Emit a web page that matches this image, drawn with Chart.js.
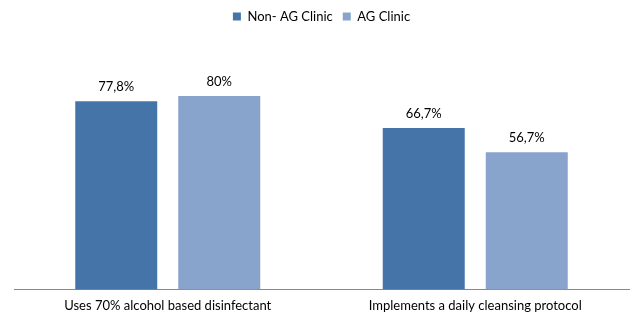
<!DOCTYPE html>
<html><head><meta charset="utf-8">
<script src="https://cdn.jsdelivr.net/npm/chart.js@4/dist/chart.umd.min.js"></script>
<style>html,body{margin:0;padding:0;background:#fff}#wrap{width:633px;height:318px}</style>
</head><body><div id="wrap"><canvas id="c" width="633" height="318"></canvas></div>
<script>
const categories = ["Uses 70% alcohol based disinfectant", "Implements a daily cleansing protocol"];
const nonAG = [77.8, 66.7];
const AG = [80, 56.7];
const seriesNames = ["Non- AG Clinic", "AG Clinic"];
const fmt = v => String(v).replace('.', ',') + '%';
const FONT = "Lato";

const labelPlugin = {
  id: 'valLabels',
  afterDatasetsDraw(chart) {
    const ctx = chart.ctx;
    ctx.save();
    ctx.font = "13px " + FONT;
    ctx.fillStyle = '#000';
    ctx.textAlign = 'center';
    ctx.textBaseline = 'bottom';
    chart.data.datasets.forEach((ds, i) => {
      chart.getDatasetMeta(i).data.forEach((el, j) => {
        ctx.fillText(fmt(ds.data[j]), el.x, el.y - 8);
      });
    });
    ctx.restore();
  }
};

new Chart(document.getElementById('c'), {
  type: 'bar',
  data: {
    labels: categories,
    datasets: [
      { label: seriesNames[0], data: nonAG, backgroundColor: '#4574A8' },
      { label: seriesNames[1], data: AG, backgroundColor: '#88A4CC' }
    ]
  },
  options: {
    responsive: false,
    animation: false,
    devicePixelRatio: 1,
    categoryPercentage: 0.67,
    barPercentage: 0.796,
    layout: { padding: { left: 14, right: 4, top: 0, bottom: -5 } },
    plugins: {
      legend: {
        position: 'top',
        labels: { boxWidth: 8, boxHeight: 8, font: { family: FONT, size: 13 }, color: '#000', padding: 10 }
      },
      tooltip: { enabled: false }
    },
    scales: {
      y: { display: false, min: 0, max: 106 },
      x: {
        grid: { display: false, drawTicks: false },
        border: { display: true, color: '#888', width: 1 },
        ticks: { font: { family: FONT, size: 13 }, color: '#000', padding: 9, maxRotation: 0 }
      }
    }
  },
  plugins: [labelPlugin]
});
</script></body></html>
